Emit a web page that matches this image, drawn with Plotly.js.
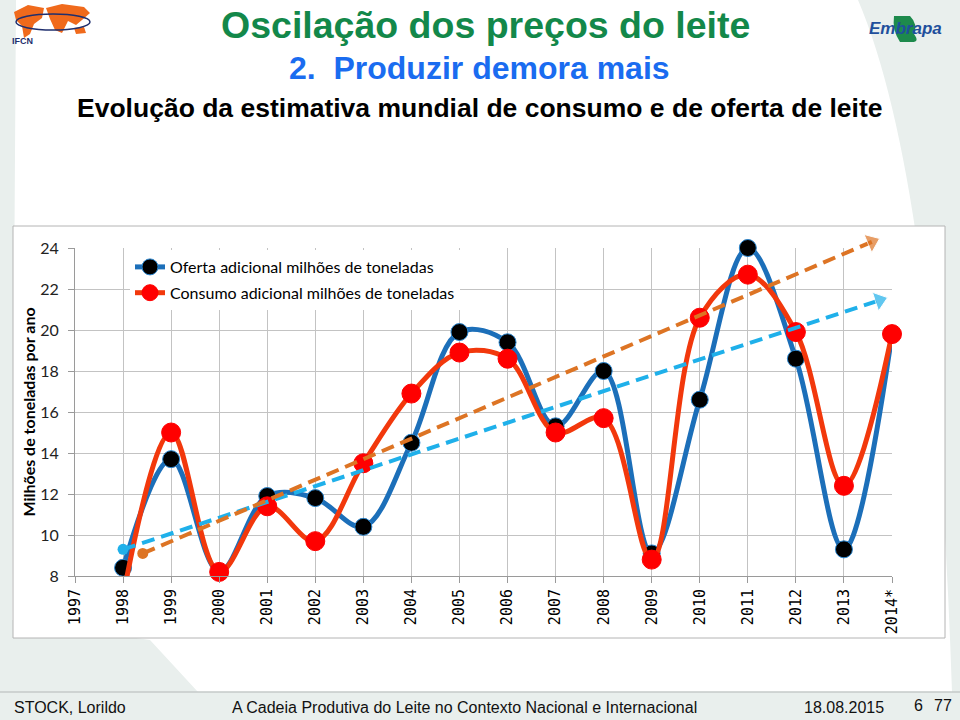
<!DOCTYPE html>
<html>
<head>
<meta charset="utf-8">
<script src="https://cdn.plot.ly/plotly-3.0.1.min.js"></script>
<style>
  html, body { margin: 0; padding: 0; background: #ffffff; }
  #chart { width: 960px; height: 720px; }
</style>
</head>
<body>
<div id="chart"></div>
<script>
// ---------------- data ----------------
const years = ['1997','1998','1999','2000','2001','2002','2003','2004','2005','2006','2007','2008','2009','2010','2011','2012','2013','2014*'];
const oferta = [null, 8.4, 13.7, 8.2, 11.9, 11.8, 10.4, 14.5, 19.9, 19.4, 15.3, 18.0, 9.1, 16.6, 24.0, 18.6, 9.3, 19.8];
const consumo = [null, 7.0, 15.0, 8.2, 11.4, 9.7, 13.5, 16.9, 18.9, 18.6, 15.0, 15.7, 8.8, 20.6, 22.7, 19.9, 12.4, 19.8];
// trend arrows (start, end) in category-index / value units
const trendOfertaX = [1.0, 16.74];
const trendOfertaY = [9.3, 21.45];
const trendConsumoX = [1.41, 16.58];
const trendConsumoY = [9.1, 24.3];
const yTicks = [8, 10, 12, 14, 16, 18, 20, 22, 24];

// ---------------- geometry helpers ----------------
const M = {l: 75, r: 68, t: 228, b: 144};
const W = 960, H = 720;
const PW = W - M.l - M.r, PH = H - M.t - M.b;
const px = x => (x - M.l) / PW;
const py = y => (H - M.b - y) / PH;
const mainTop = (576 - 248) / PH;            // fraction of plot area used by main y axis
const y2max = 8 + 16 / mainTop;

const xIdx = years.map((_, i) => i);

const blue = '#1c6fb9';
const red = '#f2380c';
const cyan = '#1fb0ea';
const orange = '#dd7424';

const traces = [
  {
    x: xIdx, y: oferta, type: 'scatter', mode: 'lines+markers',
    name: 'Oferta adicional milhões de toneladas',
    legendgroup: 'a',
    line: {color: blue, width: 5, shape: 'spline', smoothing: 1},
    marker: {color: '#000000', size: 17, opacity: 1, line: {color: '#2a86d0', width: 1}},
    cliponaxis: false, connectgaps: false
  },
  {
    x: xIdx, y: consumo, type: 'scatter', mode: 'lines+markers',
    name: 'Consumo adicional milhões de toneladas',
    legendgroup: 'b',
    line: {color: red, width: 5, shape: 'spline', smoothing: 1},
    marker: {color: '#ff0000', opacity: 1, size: consumo.map((v, i) => (i === 1 ? 0 : 19)), line: {color: '#ff0000', width: 1}},
    cliponaxis: false, connectgaps: false
  },
  {
    x: trendOfertaX, y: trendOfertaY, xaxis: 'x2', yaxis: 'y2', type: 'scatter', mode: 'lines+markers',
    showlegend: false,
    line: {color: cyan, width: 4, dash: '13px,7px'},
    marker: {color: cyan, symbol: 'triangle-up', size: [0, 17], angleref: 'previous'},
    cliponaxis: false
  },
  {
    x: trendOfertaX.slice(0, 1), y: trendOfertaY.slice(0, 1), xaxis: 'x2', yaxis: 'y2', type: 'scatter', mode: 'markers',
    showlegend: false, marker: {color: cyan, symbol: 'circle', size: 11}, cliponaxis: false
  },
  {
    x: trendConsumoX, y: trendConsumoY, xaxis: 'x2', yaxis: 'y2', type: 'scatter', mode: 'lines+markers',
    showlegend: false,
    line: {color: orange, width: 4, dash: '13px,7px'},
    marker: {color: orange, symbol: 'triangle-up', size: [0, 17], angleref: 'previous'},
    cliponaxis: false
  },
  {
    x: trendConsumoX.slice(0, 1), y: trendConsumoY.slice(0, 1), xaxis: 'x2', yaxis: 'y2', type: 'scatter', mode: 'markers',
    showlegend: false, marker: {color: orange, symbol: 'circle', size: 11}, cliponaxis: false
  }
];

const gridC = '#c3c3c3';
const calibriLike = 'Lato, "Open Sans", sans-serif';
const arial = '"Liberation Sans", Arial, sans-serif';
const layout = {
  width: W, height: H,
  margin: M,
  paper_bgcolor: '#e9efed',
  plot_bgcolor: 'rgba(0,0,0,0)',
  showlegend: true,
  legend: {
    x: px(130), y: py(250), xanchor: 'left', yanchor: 'top',
    bgcolor: '#ffffff', borderwidth: 0,
    font: {family: calibriLike, size: 16, color: '#000000'},
    traceorder: 'grouped', tracegroupgap: 2, itemwidth: 30
  },
  xaxis: {
    domain: [0, 1], range: [0, 17], anchor: 'y',
    tickmode: 'array', tickvals: xIdx, ticktext: years, tickangle: -90,
    tickfont: {family: '"DejaVu Sans Mono", monospace', size: 15, color: '#000000'},
    showgrid: true, gridcolor: gridC, gridwidth: 1,
    ticks: 'outside', ticklen: 6, tickcolor: '#9a9a9a',
    showline: true, linecolor: '#9a9a9a', linewidth: 1,
    zeroline: false, fixedrange: true
  },
  yaxis: {
    domain: [0, mainTop], range: [8, 24], anchor: 'x',
    tickmode: 'array', tickvals: yTicks,
    tickfont: {family: calibriLike, size: 16, color: '#222222'},
    showgrid: true, gridcolor: gridC, gridwidth: 1,
    ticks: 'outside', ticklen: 6, tickcolor: '#9a9a9a', ticklabelstandoff: 6,
    showline: true, linecolor: '#9a9a9a', linewidth: 1,
    zeroline: false, fixedrange: true,
    title: {text: 'Milhões de toneladas por ano', standoff: 0,
            font: {family: calibriLike, size: 16, color: '#000000', weight: 'bold'}}
  },
  xaxis2: {domain: [0, 1], range: [0, 17], anchor: 'y2', visible: false, fixedrange: true},
  yaxis2: {domain: [0, 1], range: [8, y2max], anchor: 'x2', visible: false, fixedrange: true},
  shapes: [
    // white swoosh of the slide background
    {type: 'path', xref: 'paper', yref: 'paper', layer: 'below', line: {width: 0}, fillcolor: '#ffffff',
     path: 'M ' + px(16) + ' ' + py(0) + ' L ' + px(858) + ' ' + py(0) +
           ' Q ' + px(935) + ' ' + py(180) + ' ' + px(952) + ' ' + py(692) +
           ' L ' + px(198) + ' ' + py(692) + ' L ' + px(150) + ' ' + py(640) +
           ' L ' + px(12) + ' ' + py(620) + ' Z'},
    // chart frame
    {type: 'rect', xref: 'paper', yref: 'paper', layer: 'below',
     x0: px(13), x1: px(945), y0: py(638), y1: py(226),
     fillcolor: '#ffffff', line: {color: '#b4b4b4', width: 1}},
    // footer separator
    {type: 'line', xref: 'paper', yref: 'paper', layer: 'below',
     x0: px(0), x1: px(960), y0: py(692), y1: py(692), line: {color: '#c4cac8', width: 1.5}},
    // IFCN logo: orange land masses + ring
    {type: 'path', xref: 'paper', yref: 'paper', layer: 'below', line: {width: 0}, fillcolor: '#f06a1c',
     path: 'M ' + px(14) + ' ' + py(12) + ' L ' + px(28) + ' ' + py(5) + ' L ' + px(44) + ' ' + py(8) +
           ' L ' + px(42) + ' ' + py(18) + ' L ' + px(34) + ' ' + py(24) + ' L ' + px(30) + ' ' + py(34) +
           ' L ' + px(24) + ' ' + py(38) + ' L ' + px(22) + ' ' + py(26) + ' L ' + px(16) + ' ' + py(20) + ' Z'},
    {type: 'path', xref: 'paper', yref: 'paper', layer: 'below', line: {width: 0}, fillcolor: '#f06a1c',
     path: 'M ' + px(46) + ' ' + py(8) + ' L ' + px(62) + ' ' + py(4) + ' L ' + px(84) + ' ' + py(7) +
           ' L ' + px(90) + ' ' + py(13) + ' L ' + px(82) + ' ' + py(20) + ' L ' + px(76) + ' ' + py(25) +
           ' L ' + px(68) + ' ' + py(21) + ' L ' + px(62) + ' ' + py(33) + ' L ' + px(55) + ' ' + py(30) +
           ' L ' + px(50) + ' ' + py(19) + ' Z'},
    {type: 'path', xref: 'paper', yref: 'paper', layer: 'below', line: {width: 0}, fillcolor: '#f06a1c',
     path: 'M ' + px(74) + ' ' + py(28) + ' L ' + px(84) + ' ' + py(27) + ' L ' + px(86) + ' ' + py(33) +
           ' L ' + px(76) + ' ' + py(34) + ' Z'},
    {type: 'circle', xref: 'paper', yref: 'paper', layer: 'below',
     x0: px(16), x1: px(90), y0: py(30), y1: py(14), line: {color: '#1f2f6e', width: 1.5}},
    // Embrapa logo leaf
    {type: 'path', xref: 'paper', yref: 'paper', layer: 'below', line: {width: 0}, fillcolor: '#1d8a4c',
     path: 'M ' + px(894) + ' ' + py(16) + ' L ' + px(910) + ' ' + py(16) +
           ' Q ' + px(918) + ' ' + py(24) + ' ' + px(914) + ' ' + py(34) +
           ' Q ' + px(920) + ' ' + py(42) + ' ' + px(912) + ' ' + py(42) +
           ' L ' + px(900) + ' ' + py(42) + ' Q ' + px(892) + ' ' + py(30) + ' ' + px(894) + ' ' + py(16) + ' Z'}
  ],
  annotations: [
    {text: 'Oscilação dos preços do leite', xref: 'paper', yref: 'paper', x: px(485), y: py(25),
     xanchor: 'center', yanchor: 'middle', showarrow: false,
     font: {family: arial, size: 37.5, color: '#13884a', weight: 'bold'}},
    {text: '2.  Produzir demora mais', xref: 'paper', yref: 'paper', x: px(479), y: py(68),
     xanchor: 'center', yanchor: 'middle', showarrow: false,
     font: {family: arial, size: 32, color: '#1a6cf0', weight: 'bold'}},
    {text: 'Evolução da estimativa mundial de consumo e de oferta de leite', xref: 'paper', yref: 'paper',
     x: px(480), y: py(108), xanchor: 'center', yanchor: 'middle', showarrow: false,
     font: {family: arial, size: 26.5, color: '#000000', weight: 'bold'}},
    {text: 'IFCN', xref: 'paper', yref: 'paper', x: px(10), y: py(41), xanchor: 'left', yanchor: 'middle',
     showarrow: false, font: {family: arial, size: 9, color: '#1f2f6e', weight: 'bold'}},
    {text: '<i>Embrapa</i>', xref: 'paper', yref: 'paper', x: px(867), y: py(28), xanchor: 'left', yanchor: 'middle',
     showarrow: false, font: {family: arial, size: 17, color: '#1f4f9c', weight: 'bold'}},
    {text: 'STOCK, Lorildo', xref: 'paper', yref: 'paper', x: px(12), y: py(707), xanchor: 'left', yanchor: 'middle',
     showarrow: false, font: {family: arial, size: 16, color: '#111111'}},
    {text: 'A Cadeia Produtiva do Leite no Contexto Nacional e Internacional', xref: 'paper', yref: 'paper',
     x: px(230), y: py(707), xanchor: 'left', yanchor: 'middle',
     showarrow: false, font: {family: arial, size: 16, color: '#111111'}},
    {text: '18.08.2015', xref: 'paper', yref: 'paper', x: px(802), y: py(707), xanchor: 'left', yanchor: 'middle',
     showarrow: false, font: {family: arial, size: 16, color: '#111111'}},
    {text: '6', xref: 'paper', yref: 'paper', x: px(912), y: py(705), xanchor: 'left', yanchor: 'middle',
     showarrow: false, font: {family: arial, size: 16, color: '#111111'}},
    {text: '77', xref: 'paper', yref: 'paper', x: px(932), y: py(705), xanchor: 'left', yanchor: 'middle',
     showarrow: false, font: {family: arial, size: 16, color: '#111111'}}
  ]
};

Plotly.newPlot('chart', traces, layout, {displayModeBar: false, staticPlot: true});
</script>
</body>
</html>
